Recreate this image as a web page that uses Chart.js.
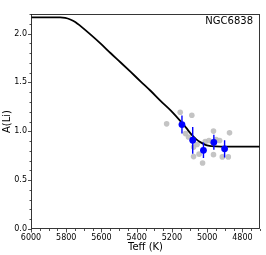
<!DOCTYPE html>
<html><head><meta charset="utf-8">
<script src="https://cdn.jsdelivr.net/npm/chart.js@4"></script>
<style>html,body{margin:0;padding:0;background:#fff}canvas{display:block}</style>
</head><body>
<canvas id="c" width="266" height="255"></canvas>
<script>
// ---- data ----
const teffLine = [6000,5834,5806,5777,5749,5720,5663,5606,5549,5491,5434,5377,5320,5263,5206,5149,5120,5091,5063,5034,5006,4977,4920,4700];
const aliLine  = [2.165,2.165,2.160,2.144,2.119,2.078,1.991,1.899,1.801,1.704,1.607,1.509,1.412,1.309,1.212,1.099,1.037,0.971,0.920,0.884,0.859,0.848,0.843,0.843];

const teffStars = [5230,5153,5087,5123,5106,5077,5077,5046,5026,5011,4990,4971,4949,4964,4964,4914,4880,4873,4929,5057];
const aliStars  = [1.076,1.195,1.164,0.976,0.941,0.838,0.741,0.766,0.676,0.894,0.905,0.889,0.915,1.002,0.761,0.738,0.738,0.984,0.905,0.864];

const teffBin = [5143,5082,5021,4962,4901];
const aliBin  = [1.069,0.908,0.805,0.887,0.820];
const errBin  = [0.092,0.137,0.079,0.077,0.089];

const xTickLabels = [6000,5800,5600,5400,5200,5000,4800];
const yTickLabels = ['0.0','0.5','1.0','1.5','2.0'];
const xTitle = 'Teff (K)';
const yTitle = 'A(Li)';
const clusterName = 'NGC6838';

// ---- build datasets ----
const lineData = teffLine.map((t,i)=>({x:t,y:aliLine[i]}));
const starData = teffStars.map((t,i)=>({x:t,y:aliStars[i]}));
const binData = teffBin.map((t,i)=>({x:t,y:aliBin[i]}));
const errData = [];
teffBin.forEach((t,i)=>{
  errData.push({x:t,y:aliBin[i]-errBin[i]});
  errData.push({x:t,y:aliBin[i]+errBin[i]});
  errData.push({x:t,y:null});
});
const xMajor = xTickLabels.slice();
const yMajor = yTickLabels.map(Number);
const xMinor = []; for(let v=6000; v>=4700; v-=50) xMinor.push(v);
const yMinor = []; for(let k=0; k<=22; k++) yMinor.push(k/10);

const frameTicks = {
  id:'frameTicks',
  afterDraw(chart){
    const ctx=chart.ctx, a=chart.chartArea, xs=chart.scales.x, ys=chart.scales.y;
    ctx.save();
    ctx.strokeStyle='#222'; ctx.lineWidth=0.9;
    ctx.strokeRect(Math.round(a.left)+0.5, Math.round(a.top)+0.5, Math.round(a.right-a.left)-1, Math.round(a.bottom-a.top)-1);
    ctx.lineWidth=0.8;
    const bx=Math.round(a.bottom), lx=Math.round(a.left)+0.5;
    ctx.beginPath();
    xMinor.forEach(v=>{const p=Math.round(xs.getPixelForValue(v))+0.5; const L=xMajor.includes(v)?3.5:2; ctx.moveTo(p,bx); ctx.lineTo(p,bx+L);});
    yMinor.forEach(v=>{const p=Math.round(ys.getPixelForValue(v))+0.5; const L=yMajor.some(m=>Math.abs(m-v)<1e-6)?3.5:2; ctx.moveTo(lx,p); ctx.lineTo(lx-L,p);});
    ctx.stroke();
    ctx.fillStyle='#000';
    ctx.font='10px "DejaVu Sans"';
    ctx.textAlign='right'; ctx.textBaseline='middle';
    ctx.fillText(clusterName, a.right-7, a.top+7);
    ctx.textAlign='center';
    ctx.fillText(xTitle, (a.left+a.right)/2, 247);
    ctx.translate(7, (a.top+a.bottom)/2);
    ctx.rotate(-Math.PI/2);
    ctx.fillText(yTitle, 0, 0);
    ctx.restore();
  }
};

new Chart(document.getElementById('c'), {
  type:'scatter',
  data:{datasets:[
    {type:'scatter', data:binData, backgroundColor:'#0000ff', borderColor:'#0000ff', pointRadius:3.4, borderWidth:0, order:0},
    {type:'line', data:errData, borderColor:'#0000ff', borderWidth:1.4, pointRadius:0, spanGaps:false, fill:false, order:1},
    {type:'line', data:lineData, borderColor:'#000', borderWidth:1.8, pointRadius:0, fill:false, cubicInterpolationMode:'monotone', order:2},
    {type:'scatter', data:starData, backgroundColor:'rgba(190,190,190,0.9)', borderWidth:0, pointRadius:2.8, order:3}
  ]},
  options:{
    responsive:false, animation:false, devicePixelRatio:1,
    layout:{padding:{top:14,right:6,left:0,bottom:0}},
    plugins:{legend:{display:false}, tooltip:{enabled:false}},
    scales:{
      x:{type:'linear', reverse:true, min:4700, max:6000,
        afterBuildTicks(s){ s.ticks = xMajor.map(v=>({value:v})); },
        afterFit(s){ s.height = 26; },
        grid:{display:false, drawTicks:false, tickLength:0}, border:{display:false},
        ticks:{font:{family:'DejaVu Sans', size:8}, color:'#000', padding:4, maxRotation:0, autoSkip:false,
          callback:(v)=>String(v)}
      },
      y:{type:'linear', min:0, max:2.2,
        afterBuildTicks(s){ s.ticks = yMajor.map(v=>({value:v})); },
        afterFit(s){ s.width = 31; },
        grid:{display:false, drawTicks:false, tickLength:0}, border:{display:false},
        ticks:{font:{family:'DejaVu Sans', size:8}, color:'#000', padding:4, autoSkip:false,
          callback:(v)=>yTickLabels[yMajor.indexOf(v)] ?? ''}
      }
    }
  },
  plugins:[frameTicks]
});
</script>
</body></html>
